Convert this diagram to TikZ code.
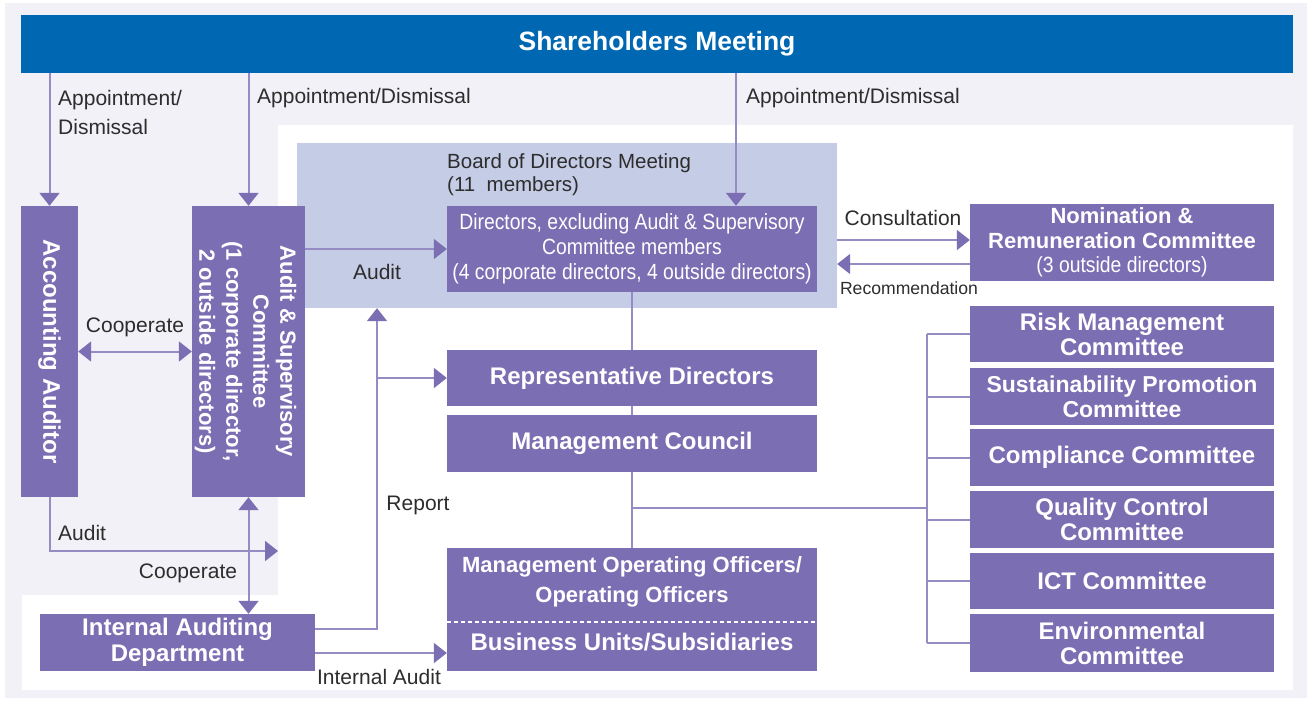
\documentclass[tikz,border=0pt]{standalone}
\usepackage{fontspec}
\setmainfont{Liberation Sans}
\newfontfamily\condfont[FakeStretch=0.88]{Liberation Sans}
\usetikzlibrary{arrows.meta,calc}
\definecolor{boxc}{RGB}{124,110,179}
\definecolor{linec}{RGB}{150,140,196}
\definecolor{lblue}{RGB}{197,204,230}
\definecolor{bgray}{RGB}{241,241,247}
\definecolor{sblue}{RGB}{0,103,178}
\definecolor{txt}{RGB}{45,45,45}
\begin{document}
\begin{tikzpicture}[x=1pt,y=-1pt,
  pbox/.style={fill=boxc, draw=none, inner sep=0pt, text=white, align=center,
    font=\bfseries\fontsize{24}{25}\selectfont},
  wtxt/.style={text=white, inner sep=0pt, align=center, font=\bfseries\fontsize{24}{25}\selectfont},
  lbl/.style={text=txt, inner sep=0pt, font=\fontsize{21}{29}\selectfont},
  conn/.style={draw=linec, line width=2pt},
  arr/.style={conn, -{Triangle[width=20pt,length=13pt,color=boxc]}},
  darr/.style={conn, {Triangle[width=20pt,length=13pt,color=boxc]}-{Triangle[width=20pt,length=13pt,color=boxc]}}
]
\useasboundingbox (0,0) rectangle (1314,704);
% backgrounds
\fill[white] (0,0) rectangle (1314,704);
\fill[bgray] (5,3) rectangle (1307,698);
\fill[white] (278,125) -- (1293,125) -- (1293,690) -- (22,690) -- (22,595) -- (278,595) -- cycle;

% board of directors area
\node[fill=lblue, inner sep=0pt, minimum width=540, minimum height=165] (board) at (567,225.5) {};

% shareholders
\node[fill=sblue, inner sep=0pt, minimum width=1272, minimum height=58, text=white,
  font=\bfseries\fontsize{26.5}{30}\selectfont] (sh) at (657,44) {Shareholders Meeting};

% left boxes
\node[pbox, minimum width=57, minimum height=291] (acc) at (49.5,351.5) {};
\node[wtxt, rotate=-90] (acct) at (acc) {Accounting Auditor};
\node[pbox, minimum width=113, minimum height=291] (asc) at (248.5,351.5) {};
\node[wtxt, rotate=-90, font=\bfseries\fontsize{22}{27}\selectfont] (asct) at ($(asc)+(-3,0)$)
  {Audit \& Supervisory\\Committee\\(1 corporate director,\\2 outside directors)};
\node[pbox, minimum width=275, minimum height=57] (iad) at (177.5,642.5) {Internal Auditing\\[1pt]Department};

% centre boxes
\node[pbox, minimum width=370, minimum height=86, font=\condfont\fontsize{22}{25}\selectfont] (dir) at (632,249)
  {Directors, excluding Audit \& Supervisory\\Committee members\\(4 corporate directors, 4 outside directors)};
\node[pbox, minimum width=370, minimum height=56] (rep) at (632,378) {Representative Directors};
\node[pbox, minimum width=370, minimum height=57] (mc) at (632,443.5) {Management Council};
\node[pbox, minimum width=370, minimum height=123] (moo) at (632,609.5) {};
\node[wtxt, font=\bfseries\fontsize{22}{30}\selectfont] (moot) at (632,582) {Management Operating Officers/\\Operating Officers};
\node[wtxt] (but) at (632,642) {Business Units/Subsidiaries};
\coordinate (dl) at (0,622);
\draw[white, line width=1.5pt, dash pattern=on 4pt off 3pt] (moo.west |- dl) -- (moo.east |- dl);

% right boxes
\node[pbox, minimum width=304, minimum height=77, font=\bfseries\fontsize{22}{24.5}\selectfont] (nom) at (1122,242.5)
  {Nomination \&\\Remuneration Committee\\{\condfont\mdseries\fontsize{22}{24.5}\selectfont (3 outside directors)}};
\node[pbox, minimum width=304, minimum height=56] (risk) at (1122,334) {Risk Management\\Committee};
\node[pbox, minimum width=304, minimum height=57, font=\bfseries\fontsize{23}{25}\selectfont] (sus) at (1122,396.5) {Sustainability Promotion\\Committee};
\node[pbox, minimum width=304, minimum height=57] (comp) at (1122,457.5) {Compliance Committee};
\node[pbox, minimum width=304, minimum height=57] (qual) at (1122,519.5) {Quality Control\\Committee};
\node[pbox, minimum width=304, minimum height=56] (ict) at (1122,581) {ICT Committee};
\node[pbox, minimum width=304, minimum height=58] (env) at (1122,643) {Environmental\\Committee};

% connectors
\coordinate (d3) at (736,0);
\draw[arr] (acc.north |- sh.south) -- (acc.north);
\draw[arr] (asc.north |- sh.south) -- (asc.north);
\draw[arr] (d3 |- sh.south) -- (d3 |- dir.north);
\draw[arr] (asc.east |- dir.west) -- (dir.west);
\draw[darr] (acc.east) -- (asc.west);
\coordinate (aud) at (278,551);
\draw[arr] (acc.south) -- (acc.south |- aud) -- (aud);
\draw[darr] (asc.south) -- (asc.south |- iad.north);
\coordinate (rp) at (377,629);
\draw[arr] (iad.east |- rp) -- (rp) -- (rp |- board.south);
\draw[arr] (rp |- rep.west) -- (rep.west);
\coordinate (ia) at (0,653);
\draw[arr] (iad.east |- ia) -- (moo.west |- ia);
\coordinate (cs) at (0,240);
\coordinate (rc) at (0,264);
\draw[arr] (board.east |- cs) -- (nom.west |- cs);
\draw[arr] (nom.west |- rc) -- (board.east |- rc);
\draw[conn] (dir.south) -- (rep.north);
\draw[conn] (rep.south) -- (mc.north);
\draw[conn] (mc.south) -- (moo.north);
\coordinate (br) at (927,508);
\draw[conn] (mc.south |- br) -- (br);
\draw[conn] (br |- risk.west) -- (br |- env.west);
\foreach \n in {risk,sus,comp,qual,ict,env} \draw[conn] (br |- \n.west) -- (\n.west);

% labels
\node[lbl, anchor=west, align=left] (l1) at (58,112) {Appointment/\\Dismissal};
\node[lbl, anchor=west] (l2) at (257,98) {Appointment/Dismissal};
\node[lbl, anchor=west] (l3) at (746,98) {Appointment/Dismissal};
\node[lbl, anchor=west, align=left, font=\fontsize{20.5}{23}\selectfont] (bl) at (447,175) {Board of Directors Meeting\\(11\ \ members)};
\node[lbl] (l4) at (377,272) {Audit};
\node[lbl] (l5) at (135,327) {Cooperate};
\node[lbl, anchor=west] (l6) at (58,533) {Audit};
\node[lbl] (l7) at (188,573) {Cooperate};
\node[lbl] (l8) at (418,505) {Report};
\node[lbl] (l9) at (379,677) {Internal Audit};
\node[lbl] (l10) at (903,218) {Consultation};
\node[lbl, font=\fontsize{17.6}{20}\selectfont] (l11) at (909,288) {Recommendation};
\end{tikzpicture}
\end{document}
